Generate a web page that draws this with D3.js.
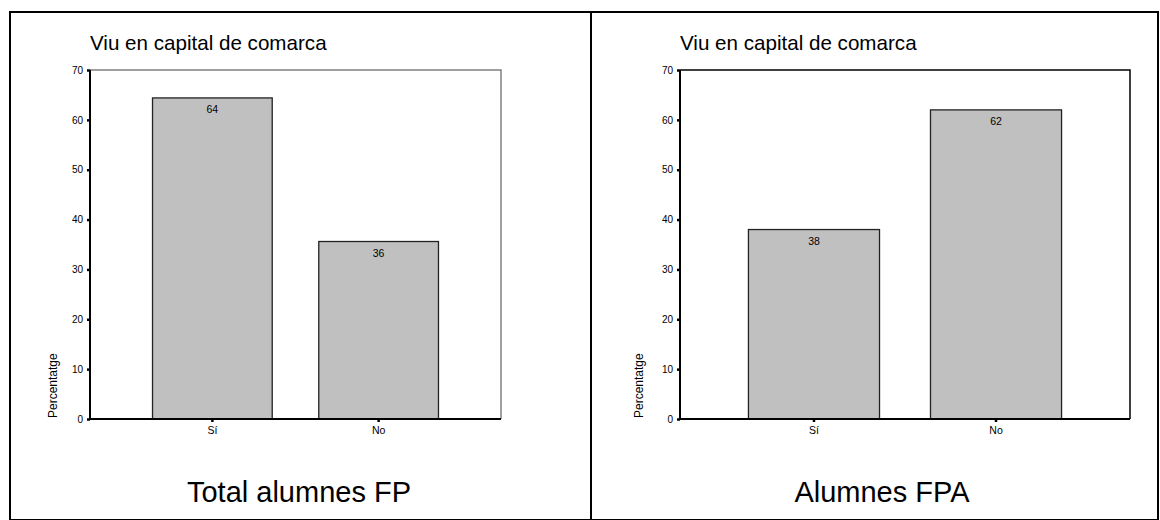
<!DOCTYPE html>
<html><head><meta charset="utf-8">
<script src="https://cdn.jsdelivr.net/npm/d3@7"></script>
<style>
html,body{margin:0;padding:0;background:#fff;}
svg{display:block;font-family:"Liberation Sans",Arial,sans-serif;}
</style></head>
<body>
<svg id="c" width="1160" height="520"></svg>
<script>
const categories = ["Sí", "No"];
const valuesTotalFP = [64.4, 35.6];
const valuesFPA = [38.0, 62.0];
const labelsTotalFP = ["64", "36"];
const labelsFPA = ["38", "62"];
const yTicks = [0, 10, 20, 30, 40, 50, 60, 70];
const chartTitle = "Viu en capital de comarca";
const yAxisTitle = "Percentatge";
const panelTitles = ["Total alumnes FP", "Alumnes FPA"];

const svg = d3.select("#c");
svg.append("rect").attr("x",0).attr("y",0).attr("width",1160).attr("height",520).attr("fill","#fff");

// outer frame
svg.append("rect").attr("x",10).attr("y",12).attr("width",1148).attr("height",508)
  .attr("fill","none").attr("stroke","#000").attr("stroke-width",2);
svg.append("line").attr("x1",591).attr("x2",591).attr("y1",12).attr("y2",520)
  .attr("stroke","#000").attr("stroke-width",2);

const panels = [
  {values: valuesTotalFP, labels: labelsTotalFP, title: panelTitles[0],
   x0: 90, x1: 501, frameColor: "#808080", yLabelX: 53, bottomX: 299},
  {values: valuesFPA, labels: labelsFPA, title: panelTitles[1],
   x0: 680, x1: 1130, frameColor: "#000", yLabelX: 639, bottomX: 882}
];
const yTop = 70, yBottom = 419;

panels.forEach(p => {
  const g = svg.append("g");
  const x = d3.scaleBand().domain(categories).range([p.x0, p.x1])
    .paddingInner(0.28).paddingOuter(0.376);
  const y = d3.scaleLinear().domain([0, 70]).range([yBottom, yTop]);

  // chart title
  g.append("text").attr("x", p.x0).attr("y", 50).attr("font-size", 20.6)
    .attr("fill","#000").text(chartTitle);

  // plot frame (top & right)
  g.append("path")
    .attr("d", `M${p.x0},${yTop}H${p.x1}V${yBottom}`)
    .attr("fill","none").attr("stroke", p.frameColor).attr("stroke-width", 1.5);

  // bars
  g.selectAll("rect.bar").data(categories).join("rect")
    .attr("class","bar")
    .attr("x", d => x(d))
    .attr("width", x.bandwidth())
    .attr("y", (d,i) => y(p.values[i]))
    .attr("height", (d,i) => y(0) - y(p.values[i]))
    .attr("fill", "#c0c0c0").attr("stroke", "#222").attr("stroke-width", 1.3);

  // value labels
  g.selectAll("text.val").data(categories).join("text")
    .attr("class","val")
    .attr("x", d => x(d) + x.bandwidth()/2)
    .attr("y", (d,i) => y(p.values[i]) + 15.5)
    .attr("text-anchor","middle").attr("font-size", 10.5).attr("fill","#000")
    .text((d,i) => p.labels[i]);

  // y axis
  const ya = g.append("g").attr("transform", `translate(${p.x0},0)`)
    .call(d3.axisLeft(y).tickValues(yTicks).tickSize(3).tickPadding(4));
  ya.select(".domain").attr("stroke","#000").attr("stroke-width",2)
    .attr("d", `M0,${yTop}V${yBottom}`);
  ya.selectAll(".tick line").attr("stroke","#000").attr("stroke-width",2.5);
  ya.selectAll(".tick text").attr("font-size", 10).attr("fill","#000")
    .attr("font-family","Liberation Sans, Arial, sans-serif");

  // x axis
  const xa = g.append("g").attr("transform", `translate(0,${yBottom})`)
    .call(d3.axisBottom(x).tickSize(3).tickPadding(5));
  xa.select(".domain").attr("stroke","#000").attr("stroke-width",2)
    .attr("d", `M${p.x0},0H${p.x1}`);
  xa.selectAll(".tick line").attr("stroke","#000").attr("stroke-width",2.5);
  xa.selectAll(".tick text").attr("font-size", 10.5).attr("fill","#000")
    .attr("font-family","Liberation Sans, Arial, sans-serif");

  // y axis title
  g.append("text")
    .attr("transform", `translate(${p.yLabelX + 4},${yBottom - 1}) rotate(-90)`)
    .attr("text-anchor","start").attr("font-size", 12).attr("fill","#000")
    .text(yAxisTitle);

  // panel title
  g.append("text").attr("x", p.bottomX).attr("y", 502)
    .attr("text-anchor","middle").attr("font-size", 29).attr("fill","#000")
    .text(p.title);
});
</script>
</body></html>
